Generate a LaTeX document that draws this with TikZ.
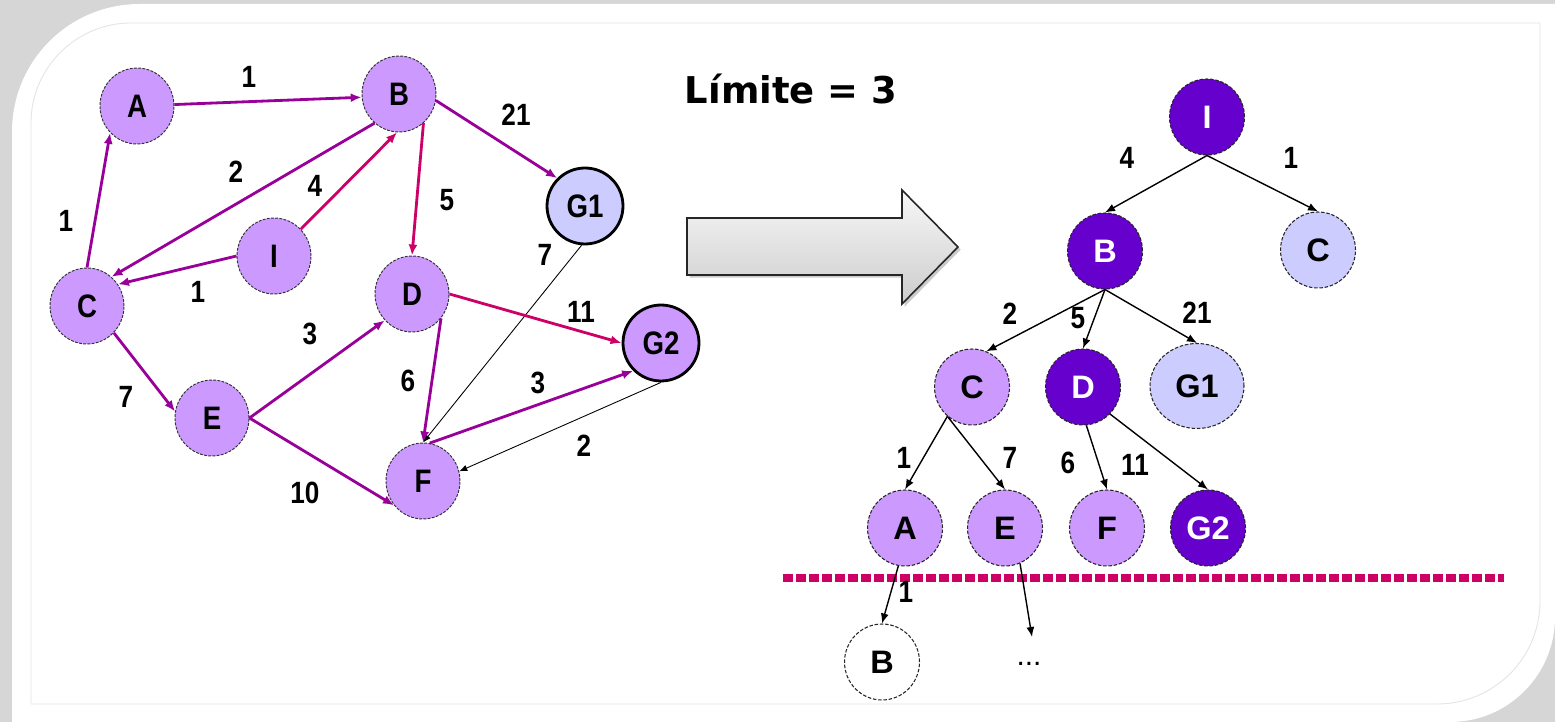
\documentclass[tikz,border=0pt]{standalone}
\usepackage{fontspec}
\setmainfont{Liberation Sans}
\newfontfamily\narrowfont[FakeStretch=0.85]{Liberation Sans}
\newfontfamily\titlefont{DejaVu Sans}
\usetikzlibrary{positioning,arrows.meta,shapes.geometric,shadows}
\definecolor{NodeLilac}{RGB}{204,153,255}
\definecolor{GoalLilac}{RGB}{204,204,255}
\definecolor{DeepViolet}{RGB}{102,0,204}
\definecolor{EdgePurple}{RGB}{153,0,153}
\definecolor{EdgeCrimson}{RGB}{204,0,102}
\definecolor{FrameGray}{RGB}{214,214,214}
\definecolor{LineGray}{RGB}{228,228,228}

\begin{document}
\begin{tikzpicture}[
  x=0.02cm,y=-0.02cm,
  gnode/.style={ellipse,draw=black!80,dash pattern=on 1.6pt off 0.8pt,line width=0.55pt,fill=NodeLilac,minimum width=1.48cm,minimum height=1.52cm,inner sep=0pt,font=\narrowfont\bfseries\fontsize{18.5}{20}\selectfont},
  ggoal/.style={gnode,solid,draw=black,line width=1.6pt,minimum width=1.52cm,minimum height=1.52cm},
  tnode/.style={ellipse,draw=black!85,dash pattern=on 2pt off 1pt,line width=0.6pt,fill=NodeLilac,minimum width=1.5cm,minimum height=1.52cm,inner sep=0pt,font=\bfseries\fontsize{18.5}{20}\selectfont},
  tdeep/.style={tnode,fill=DeepViolet,text=white},
  tpale/.style={tnode,fill=GoalLilac},
  wgt/.style={inner sep=0pt,font=\narrowfont\bfseries\fontsize{17.5}{20}\selectfont},
  parc/.style={-{Latex[length=0.22cm,width=0.18cm]},line width=1.6pt,draw=EdgePurple},
  rarc/.style={parc,draw=EdgeCrimson},
  farc/.style={-{Latex[length=0.16cm,width=0.13cm]},line width=0.5pt,draw=black},
  tarc/.style={-{Latex[length=0.2cm,width=0.16cm]},line width=0.8pt,draw=black},
  cutline/.style={draw=EdgeCrimson,line width=0.17cm,dash pattern=on 0.2cm off 0.06cm},
  bigarrow/.style={draw=black!85,line width=0.9pt,top color=gray!6,bottom color=gray!40,drop shadow={shadow xshift=1.5pt,shadow yshift=-1.5pt,fill=black!40}}
]
\useasboundingbox (0,0) rectangle (1555,722);
% frame
\fill[FrameGray] (0,0) rectangle (1555,722);
\fill[white] (12,722) -- (12,132) .. controls (12,61) and (69,4) .. (140,4) -- (1555,4) -- (1555,617) .. controls (1555,675) and (1508,722) .. (1450,722) -- cycle;
\draw[LineGray,line width=0.5pt] (31,704) -- (31,123) .. controls (31,68) and (76,23) .. (131,23) -- (1540,23) -- (1540,601) .. controls (1540,658) and (1494,704) .. (1437,704) -- cycle;

% graph
\node[gnode] (gA) at (137,106) {A};
\node[gnode] (gB) at (399,94) {B};
\node[ggoal,fill=GoalLilac] (gG1) at (585,206) {G1};
\node[gnode] (gI) at (274,256) {I};
\node[gnode] (gC) at (87,306) {C};
\node[gnode] (gD) at (412,294) {D};
\node[ggoal] (gG2) at (661,343) {G2};
\node[gnode] (gE) at (212,418) {E};
\node[gnode] (gF) at (423,481) {F};
\draw[parc] (gA) -- (gB.185);
\draw[parc] (gB.-10) -- (gG1.135);
\draw[parc] (gB.230) -- (gC.50);
\draw[rarc] (gI.45) -- (gB.267);
\draw[rarc] (gB.-50) -- (gD.north);
\draw[parc] (gC.north) -- (gA.225);
\draw[parc] (gI.west) -- (gC.35);
\draw[farc] (gG1.-95) -- (gF.north);
\draw[rarc] (gD.east) -- (gG2.west);
\draw[parc] (gC.-45) -- (gE.170);
\draw[parc] (gE.east) -- (gD.224);
\draw[parc] (gD.-40) -- (gF.north);
\draw[parc] (gF.80) -- (gG2.225);
\draw[farc] (gG2.south) -- (gF.15);
\draw[parc] (gE.east) -- (gF.220);
\node[wgt] (wAB) at (249,77) {1};
\node[wgt] (wBG) at (516,115) {21};
\node[wgt] (wBC) at (236,172) {2};
\node[wgt] (wIB) at (315,186) {4};
\node[wgt] (wBD) at (447,200) {5};
\node[wgt] (wCA) at (66,221) {1};
\node[wgt] (wIC) at (198,292) {1};
\node[wgt] (wGF) at (545,255) {7};
\node[wgt] (wDG) at (581,312) {11};
\node[wgt] (wED) at (310,334) {3};
\node[wgt] (wCE) at (126,397) {7};
\node[wgt] (wDF) at (408,381) {6};
\node[wgt] (wFG) at (538,383) {3};
\node[wgt] (wGG) at (584,446) {2};
\node[wgt] (wEF) at (305,493) {10};

% title and big arrow
\node[inner sep=0pt,font=\titlefont\bfseries\fontsize{21}{24}\selectfont] (limite) at (791,89) {Límite = 3};
\draw[bigarrow] (687,218) -- (902,218) -- (902,190) -- (958,247) -- (902,304) -- (902,275) -- (687,275) -- cycle;

% search tree
\coordinate (cutL) at (783,578);
\coordinate (cutR) at (1504,578);
\draw[cutline] (cutL) -- (cutR);
\node[tdeep] (tI) at (1207,117) {I};
\node[tdeep] (tB) at (1105,251) {B};
\node[tpale] (tC1) at (1318,250) {C};
\node[tnode] (tC2) at (972,387) {C};
\node[tdeep] (tD) at (1083,387) {D};
\node[tpale,minimum width=1.88cm,minimum height=1.7cm] (tG1) at (1197,386) {G1};
\node[tnode] (tA) at (905,528) {A};
\node[tnode] (tE) at (1005,528) {E};
\node[tnode] (tF) at (1107,528) {F};
\node[tdeep] (tG2) at (1208,528) {G2};
\node[tnode,fill=white] (tB2) at (882,662) {B};
\node[inner sep=0pt,font=\fontsize{17}{20}\selectfont] (tDots) at (1029,664) {...};
\coordinate (eStub) at (1032,637);
\draw[tarc] (tI.south) -- (tB.north);
\draw[tarc] (tI.south) -- (tC1.north);
\draw[tarc] (tB.south) -- (tC2.68);
\draw[tarc] (tB.south) -- (tD.north);
\draw[tarc] (tB.south) -- (tG1.north);
\draw[tarc] (tC2.230) -- (tA.north);
\draw[tarc] (tC2.230) -- (tE.north);
\draw[tarc] (tD.-85) -- (tF.north);
\draw[tarc] (tD.-45) -- (tG2.north);
\draw[tarc] (tA.-100) -- (tB2.north);
\draw[tarc] (tE.-67) -- (eStub);
\node[wgt] (uIB) at (1127,158) {4};
\node[wgt] (uIC) at (1291,158) {1};
\node[wgt] (uBC) at (1010,314) {2};
\node[wgt] (uBD) at (1078,318) {5};
\node[wgt] (uBG) at (1197,313) {21};
\node[wgt] (uCA) at (904,458) {1};
\node[wgt] (uCE) at (1010,458) {7};
\node[wgt] (uDF) at (1068,463) {6};
\node[wgt] (uDG) at (1135,465) {11};
\node[wgt] (uAB) at (906,592) {1};
\end{tikzpicture}
\end{document}
